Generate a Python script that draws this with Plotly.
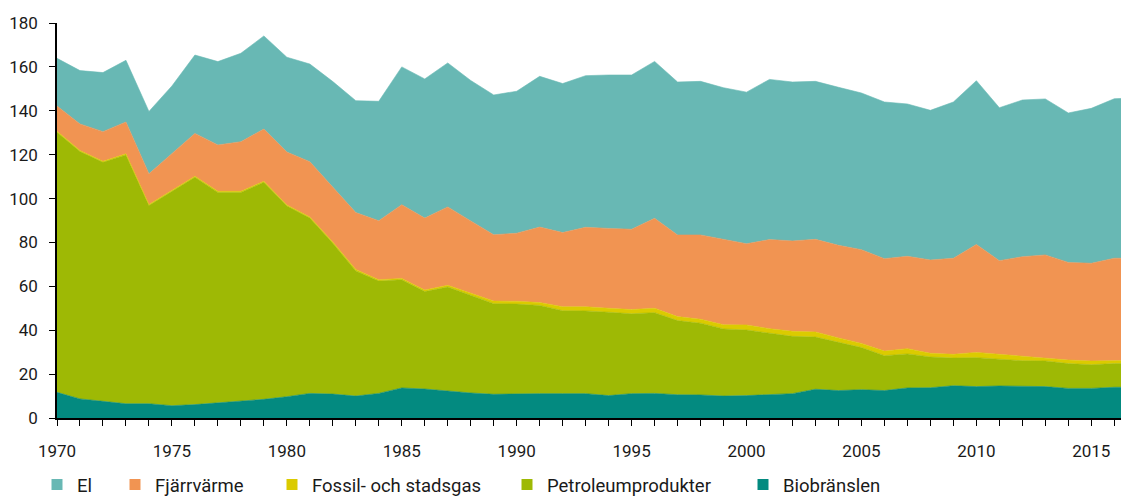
import plotly.graph_objects as go

years = list(range(1970, 2018))

biobransle = [11.7, 8.7, 7.6, 6.5, 6.5, 5.6, 6.1, 6.8, 7.6, 8.5,
              9.7, 11.2, 10.9, 10.0, 11.2, 13.7, 13.2, 12.2, 11.4, 10.8,
              11.1, 11.1, 11.1, 11.1, 10.2, 11.1, 11.2, 10.6, 10.5, 10.0,
              10.2, 10.5, 11.1, 13.1, 12.5, 12.9, 12.5, 13.7, 13.8, 14.7,
              14.3, 14.6, 14.3, 14.3, 13.5, 13.5, 14.0, 14.0]
petroleum = [118.5, 112.7, 108.9, 113.4, 90.3, 97.5, 103.6, 96.0, 95.2, 98.9,
             86.9, 79.9, 68.7, 57.0, 51.2, 49.3, 44.4, 47.5, 44.6, 41.3,
             40.8, 40.2, 37.8, 37.7, 38.0, 36.4, 36.8, 33.8, 32.7, 30.6,
             29.9, 28.1, 26.1, 23.8, 21.9, 19.2, 15.9, 15.5, 14.0, 12.6,
             13.2, 12.3, 11.8, 11.7, 11.3, 10.8, 10.8, 10.8]
gas = [0.5, 0.5, 0.5, 0.5, 0.5, 0.5, 0.5, 0.5, 0.5, 0.5,
       0.5, 0.5, 0.6, 0.7, 0.6, 0.6, 0.7, 0.8, 1.0, 1.2,
       1.3, 1.3, 1.8, 1.9, 1.8, 1.9, 2.0, 1.8, 1.8, 1.9,
       2.3, 2.1, 2.3, 2.3, 2.1, 1.9, 2.1, 2.4, 1.7, 1.7,
       2.4, 2.1, 2.0, 1.5, 1.6, 1.7, 1.5, 1.5]
fjarrvarme = [11.5, 12.1, 13.5, 14.5, 14.0, 16.7, 19.5, 21.1, 22.6, 23.8,
              24.1, 25.2, 25.2, 25.9, 26.9, 33.6, 32.8, 35.7, 32.8, 30.2,
              31.0, 34.4, 33.8, 36.2, 36.4, 36.6, 41.0, 37.2, 38.4, 38.9,
              37.0, 40.6, 41.2, 42.2, 42.2, 42.7, 42.1, 42.1, 42.5, 43.8,
              49.2, 42.7, 45.4, 46.8, 44.5, 44.5, 46.5, 46.5]
el = [21.7, 24.3, 26.9, 28.1, 28.4, 31.0, 35.7, 38.0, 40.3, 42.4,
      43.2, 44.5, 47.9, 51.0, 54.4, 62.8, 63.4, 65.6, 64.0, 63.7,
      64.7, 68.7, 67.9, 69.1, 69.9, 70.3, 71.5, 69.7, 70.0, 69.1,
      69.1, 73.0, 72.4, 72.0, 72.0, 71.4, 71.4, 69.4, 68.2, 71.2,
      74.6, 69.7, 71.4, 71.1, 68.1, 70.6, 72.7, 73.1]

# stacked bottom to top
series = [
    ("Biobränslen", biobransle, "#038A80"),
    ("Petroleumprodukter", petroleum, "#9EB905"),
    ("Fossil- och stadsgas", gas, "#DBCB00"),
    ("Fjärrvärme", fjarrvarme, "#F19452"),
    ("El", el, "#68B8B4"),
]
# one legend per entry so each sits where the original has it (px from left)
legend_x = {"El": 29, "Fjärrvärme": 107, "Fossil- och stadsgas": 264,
            "Petroleumprodukter": 499, "Biobränslen": 735}
legend_keys = {"El": "legend", "Fjärrvärme": "legend2", "Fossil- och stadsgas": "legend3",
               "Petroleumprodukter": "legend4", "Biobränslen": "legend5"}

# page has an 8px body margin
W, H = 1121, 490
fig = go.Figure()

for name, vals, col in series:
    fig.add_trace(go.Scatter(
        x=years, y=vals, name=name, stackgroup="one",
        mode="lines", line=dict(width=0.6, color=col),
        fillcolor=col, showlegend=False,
    ))
    # legend marker
    fig.add_trace(go.Scatter(
        x=[None], y=[None], name=name, mode="markers",
        marker=dict(symbol="square", size=11, color=col),
        legend=legend_keys[name],
    ))

font = dict(family="Roboto", size=17, color="#1a1a1a")
layout_legends = {}
for name, key in legend_keys.items():
    layout_legends[key] = dict(
        xref="container", yref="container",
        x=legend_x[name] / W, y=1 - 477 / H,
        xanchor="left", yanchor="middle",
        orientation="h", itemwidth=30,
        bgcolor="rgba(0,0,0,0)",
        font=dict(family="Roboto", size=18.5, color="#1a1a1a"),
    )

fig.update_layout(
    width=W, height=H,
    paper_bgcolor="white", plot_bgcolor="white",
    font=font,
    margin=dict(l=49, r=0, t=15, b=80),
    xaxis=dict(
        range=[1970, 2016.64], tickvals=list(range(1970, 2020, 5)),
        showgrid=False, zeroline=False,
        showline=True, linecolor="black", linewidth=1.5,
        ticks="outside", ticklen=6, tickcolor="black", tickwidth=1,
        ticklabelstandoff=11,
        minor=dict(dtick=1, tick0=1970, ticks="outside", ticklen=6,
                   tickcolor="black", tickwidth=1, showgrid=False),
    ),
    yaxis=dict(
        range=[0, 180], dtick=20,
        showgrid=False, zeroline=False,
        showline=True, linecolor="black", linewidth=1.5,
        ticks="outside", ticklen=6, tickcolor="black", tickwidth=1,
        ticklabelstandoff=8,
    ),
    **layout_legends,
)

fig.write_html("out.html")
